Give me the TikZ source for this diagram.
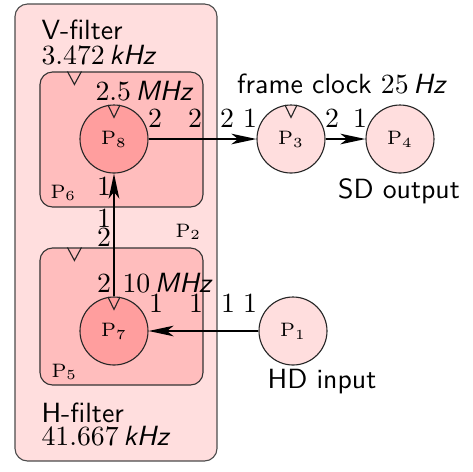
\documentclass[tikz,border=0pt]{standalone}
\usetikzlibrary{arrows.meta}
\def\u{0.36pt}
\begin{document}
\begin{tikzpicture}[x=\u,y=-\u,font=\sffamily,
  outerbox/.style={draw=black!70,fill=red!13,rounded corners=4.5pt,inner sep=0pt,
    minimum width=202*\u,minimum height=457*\u},
  innerbox/.style={draw=black!80,fill=red!26,rounded corners=4.5pt,inner sep=0pt,
    minimum width=163*\u},
  circ/.style={circle,draw=black!85,inner sep=0pt,minimum size=68*\u,font=\scriptsize},
  arr/.style={line width=0.8pt,-{Stealth[length=9pt,width=3.8pt,inset=2.4pt]}},
  tick/.style={draw=black!85,line width=0.4pt},
  lab/.style={anchor=base,inner sep=0pt},
  labw/.style={anchor=base west,inner sep=0pt},
  plab/.style={anchor=base west,inner sep=0pt,font=\scriptsize}]
\useasboundingbox (0,0) rectangle (472,472);

% boxes
\node[outerbox] (p2) at (116,232.5) {};
\node[innerbox,minimum height=135*\u] (p6) at (121.5,139.5) {};
\node[innerbox,minimum height=137*\u] (p5) at (121.5,316.5) {};

% circles
\node[circ,fill=red!38] (p8) at (114,139) {$\mathrm{P}_8$};
\node[circ,fill=red!38] (p7) at (114,331) {$\mathrm{P}_7$};
\node[circ,fill=red!13] (p3) at (291,139) {$\mathrm{P}_3$};
\node[circ,fill=red!13] (p4) at (400,139) {$\mathrm{P}_4$};
\node[circ,fill=red!13] (p1) at (293,331) {$\mathrm{P}_1$};

% clock markers
\draw[tick] (p6.north west) +(28,0) -- +(35,13) -- +(42,0);
\draw[tick] (p5.north west) +(28,0) -- +(35,13) -- +(42,0);
\draw[tick] (p8.north) +(-6,0.5) -- +(0,13) -- +(6,0.5);
\draw[tick] (p7.north) +(-6,0.5) -- +(0,13) -- +(6,0.5);
\draw[tick] (p3.north) +(-6,0.5) -- +(0,13) -- +(6,0.5);

% connectors
\draw[arr] (p8) -- (p3);
\draw[arr] (p3) -- (p4);
\draw[arr] (p7) -- (p8);
\draw[arr] (p1) -- (p7);

% box labels
\node[labw] (tvf) at (41,39) {V-filter};
\node[labw] (tvfr) at (41,64) {$3.472\,$\textit{kHz}};
\node[labw] (thf) at (41,422) {H-filter};
\node[labw] (thfr) at (41,445) {$41.667\,$\textit{kHz}};
\node[labw] (t8f) at (95,100) {$2.5\,$\textit{MHz}};
\node[labw] (t7f) at (122,292) {$10\,$\textit{MHz}};
\node[lab] (tfc) at (342,93) {frame clock $25\,$\textit{Hz}};
\node[lab] (tsd) at (399,198) {SD output};
\node[lab] (thd) at (322,388) {HD input};
\node[plab] (tp2) at (175,237) {$\mathrm{P}_2$};
\node[plab] (tp6) at (50,198) {$\mathrm{P}_6$};
\node[plab] (tp5) at (51,377) {$\mathrm{P}_5$};

% port labels
\node[lab] (q1) at (155,127) {$2$};
\node[lab] (q2) at (195,127) {$2$};
\node[lab] (q3) at (227,127) {$2$};
\node[lab] (q4) at (250,127) {$1$};
\node[lab] (q5) at (332,127) {$2$};
\node[lab] (q6) at (360,127) {$1$};
\node[lab] (q7) at (104,195) {$1$};
\node[lab] (q8) at (104,227) {$1$};
\node[lab] (q9) at (104,246) {$2$};
\node[lab] (q10) at (104,292) {$2$};
\node[lab] (q11) at (156,312) {$1$};
\node[lab] (q12) at (196,312) {$1$};
\node[lab] (q13) at (228,312) {$1$};
\node[lab] (q14) at (250,312) {$1$};
\end{tikzpicture}
\end{document}
